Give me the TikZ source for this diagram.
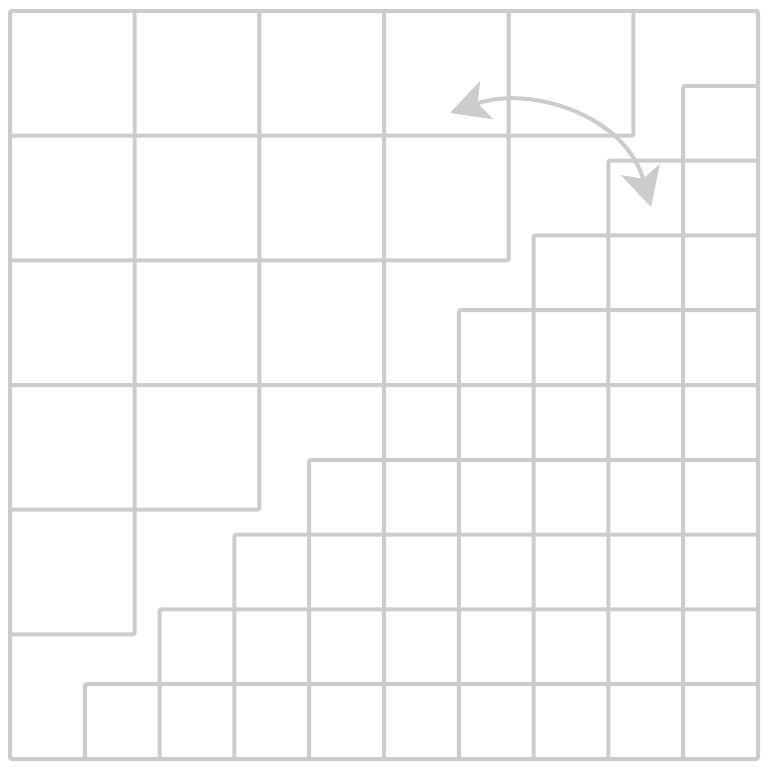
\documentclass[tikz,border=0pt]{standalone}
\usepackage{tikz}
\usetikzlibrary{arrows.meta}
\usepackage{xcolor}
\definecolor{gridgray}{RGB}{204,204,204}

\begin{document}
\begin{tikzpicture}[x=0.75pt,y=0.75pt,yscale=-1,xscale=1]
\useasboundingbox (0,0) rectangle (768,768);
\tikzset{gridline/.style={draw=gridgray,line width=3pt,rounded corners=1.5pt}}

%Shape: Square [id:outer]
\draw [gridline] (10,11) rectangle (758,759) ;

%Shape: Upper staircase, rows of big cells
\draw [gridline] (10,135.67) -- (633.33,135.67) -- (633.33,11) ;
\draw [gridline] (10,260.33) -- (508.67,260.33) -- (508.67,11) ;
\draw [gridline] (10,385) -- (384,385) -- (384,11) ;
\draw [gridline] (10,509.67) -- (259.33,509.67) -- (259.33,11) ;
\draw [gridline] (10,634.33) -- (134.67,634.33) -- (134.67,11) ;

%Shape: Lower staircase, rows of small cells
\draw [gridline] (84.8,759) -- (84.8,684.2) -- (758,684.2) ;
\draw [gridline] (159.6,759) -- (159.6,609.4) -- (758,609.4) ;
\draw [gridline] (234.4,759) -- (234.4,534.6) -- (758,534.6) ;
\draw [gridline] (309.2,759) -- (309.2,459.8) -- (758,459.8) ;
\draw [gridline] (384,759) -- (384,385) -- (758,385) ;
\draw [gridline] (458.8,759) -- (458.8,310.2) -- (758,310.2) ;
\draw [gridline] (533.6,759) -- (533.6,235.4) -- (758,235.4) ;
\draw [gridline] (608.4,759) -- (608.4,160.6) -- (758,160.6) ;
\draw [gridline] (683.2,759) -- (683.2,85.8) -- (758,85.8) ;

%Curve Lines [id:swap]
\draw [draw=gridgray,line width=3pt,{Stealth[length=29pt,width=30pt,inset=7pt]}-{Stealth[length=29pt,width=30pt,inset=7pt]}] (450,113) .. controls (530,85) and (625,115) .. (651,207) ;

\end{tikzpicture}
\end{document}
